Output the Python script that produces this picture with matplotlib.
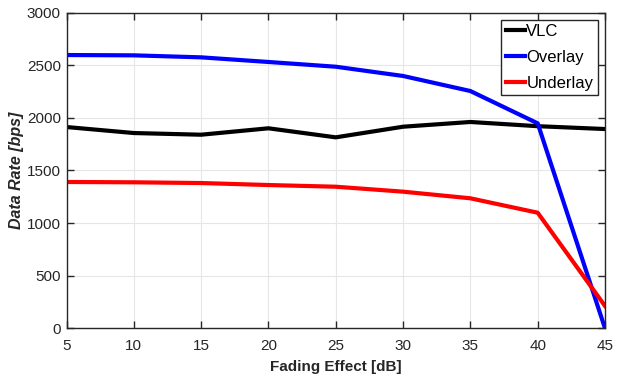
import matplotlib
matplotlib.use("Agg")
import matplotlib.pyplot as plt

plt.rcParams['font.family'] = ['Liberation Sans', 'DejaVu Sans']

fading_db = [5, 10, 15, 20, 25, 30, 35, 40, 45]
vlc = [1912, 1855, 1839, 1900, 1814, 1915, 1960, 1920, 1893]
overlay = [2596, 2593, 2574, 2530, 2485, 2397, 2254, 1947, 0]
underlay = [1390, 1387, 1380, 1361, 1345, 1298, 1235, 1098, 212]

xticks = [5, 10, 15, 20, 25, 30, 35, 40, 45]
yticks = [0, 500, 1000, 1500, 2000, 2500, 3000]

fig = plt.figure(figsize=(6.21, 3.77), dpi=100)
ax = fig.add_axes([66.5/621, 1 - 328.3/377, (605 - 66.5)/621, (328.3 - 12.5)/377])

ax.plot(fading_db, vlc, color='black', lw=3, label='VLC')
ax.plot(fading_db, overlay, color='#0000ff', lw=3, label='Overlay')
ax.plot(fading_db, underlay, color='#ff0000', lw=3, label='Underlay')

ax.set_xlim(5, 45)
ax.set_ylim(0, 3000)
ax.set_xticks(xticks)
ax.set_yticks(yticks)
ax.grid(True, color='#e6e6e6', lw=0.8)
ax.set_axisbelow(True)
ax.tick_params(direction='in', top=True, right=True, labelsize=11, colors='#262626', length=5, width=1)
ax.tick_params(axis='x', pad=8)
ax.tick_params(axis='y', pad=4)
for s in ax.spines.values():
    s.set_color('#262626')
    s.set_linewidth(1)

ax.set_xlabel('Fading Effect [dB]', fontsize=11, fontweight='bold', color='#262626', labelpad=5)
ax.set_ylabel('Data Rate [bps]', fontsize=11.5, fontweight='bold', style='italic', color='#262626', labelpad=2)

leg = ax.legend(loc='upper right', fontsize=12, handlelength=1.15, handletextpad=0.1,
                borderpad=0.25, labelspacing=0.65, fancybox=False, framealpha=1,
                edgecolor='#262626', borderaxespad=0.45)
leg.get_frame().set_linewidth(1)

fig.savefig('out.png', dpi=100)
